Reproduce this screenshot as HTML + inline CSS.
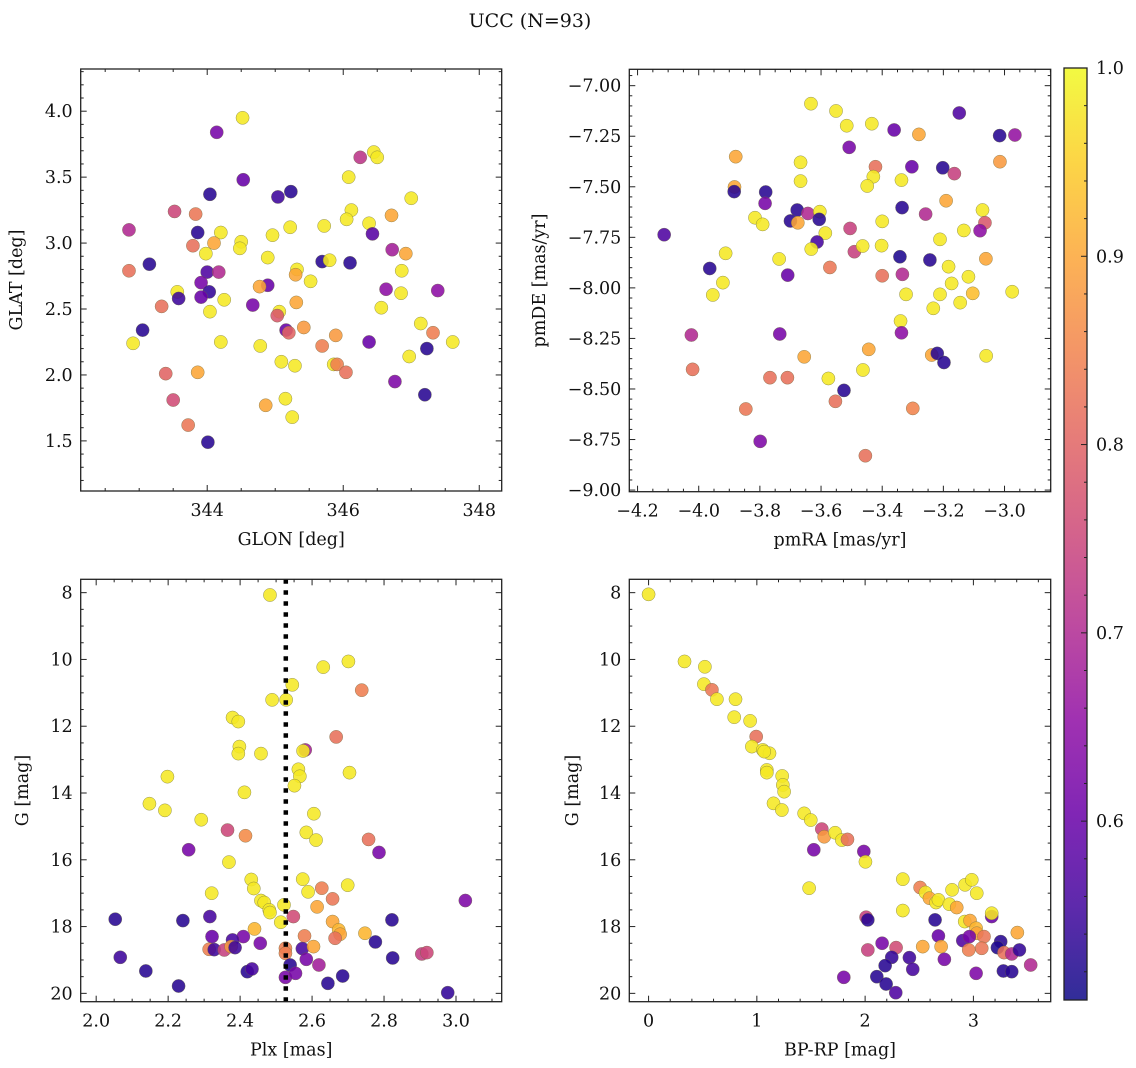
<!DOCTYPE html>
<html><head><meta charset="utf-8"><title>UCC (N=93)</title>
<style>
html,body{margin:0;padding:0;background:#fff;}
svg{display:block;font-family:"DejaVu Serif","Liberation Serif",serif;}
</style></head>
<body>
<svg id="fig" width="1136" height="1068" viewBox="0 0 1136 1068" xmlns="http://www.w3.org/2000/svg">
<text x="530" y="27" font-size="19" text-anchor="middle" fill="#111">UCC (N=93)</text>
</svg>
<script>
// ---- Panel 1: GLON vs GLAT ----
const glon=[344.52,344.14,346.25,346.45,346.5,344.53,346.08,344.04,345.23,345.04,347.0,343.52,343.83,346.12,346.05,346.71,342.85,343.86,344.2,345.22,345.72,346.38,346.43,343.79,344.1,344.5,344.48,344.96,343.98,344.89,346.72,346.92,343.15,342.85,344.0,344.17,345.69,345.8,346.1,345.32,345.3,346.86,343.91,344.03,343.56,343.58,343.91,344.89,344.77,345.52,346.63,346.85,347.39,344.25,343.33,344.04,344.67,345.31,345.06,345.03,346.56,343.05,345.16,345.2,345.42,345.89,347.14,347.32,342.91,344.2,344.78,345.69,346.38,347.61,347.23,345.09,345.29,345.86,345.91,346.04,346.97,343.39,343.86,346.76,343.5,345.15,347.2,344.86,345.25,343.72,344.01];
const glat=[3.95,3.84,3.65,3.69,3.65,3.48,3.5,3.37,3.39,3.35,3.34,3.24,3.22,3.25,3.18,3.21,3.1,3.08,3.08,3.12,3.13,3.15,3.07,2.98,3.0,3.01,2.96,3.06,2.92,2.89,2.95,2.92,2.84,2.79,2.78,2.78,2.86,2.87,2.85,2.8,2.76,2.79,2.7,2.63,2.63,2.58,2.59,2.68,2.67,2.71,2.65,2.62,2.64,2.57,2.52,2.48,2.53,2.55,2.48,2.45,2.51,2.34,2.34,2.32,2.36,2.3,2.39,2.32,2.24,2.25,2.22,2.22,2.25,2.25,2.2,2.1,2.07,2.08,2.08,2.02,2.14,2.01,2.02,1.95,1.81,1.82,1.85,1.77,1.68,1.62,1.49];
const prob1=[0.98,0.62,0.72,0.98,0.98,0.6,0.98,0.53,0.53,0.55,0.98,0.75,0.83,0.98,0.98,0.9,0.7,0.53,0.98,0.98,0.98,0.98,0.58,0.82,0.9,0.98,0.98,0.98,0.98,0.98,0.68,0.9,0.53,0.82,0.57,0.7,0.53,0.98,0.53,0.98,0.9,0.98,0.62,0.54,0.98,0.55,0.6,0.6,0.9,0.98,0.65,0.98,0.65,0.98,0.82,0.98,0.62,0.9,0.98,0.78,0.98,0.53,0.6,0.8,0.88,0.88,0.98,0.84,0.98,0.98,0.98,0.84,0.6,0.98,0.53,0.98,0.98,0.98,0.84,0.82,0.98,0.8,0.9,0.63,0.76,0.98,0.53,0.9,0.98,0.83,0.53];
// ---- Panel 2: pmRA vs pmDE ----
const pmra=[-3.633,-3.551,-3.516,-3.434,-3.508,-3.361,-3.28,-3.148,-3.016,-2.966,-3.879,-3.667,-3.667,-3.422,-3.429,-3.449,-3.337,-3.303,-3.202,-3.164,-3.015,-3.883,-3.884,-3.781,-3.783,-3.816,-3.791,-3.678,-3.7,-3.676,-3.643,-3.604,-3.606,-3.586,-3.613,-3.632,-3.505,-3.491,-3.464,-3.4,-3.402,-3.335,-3.258,-3.191,-3.211,-3.072,-3.064,-3.08,-3.133,-4.113,-3.912,-3.964,-3.921,-3.954,-3.737,-3.709,-3.571,-3.342,-3.334,-3.4,-3.244,-3.183,-3.173,-3.118,-3.061,-3.322,-3.211,-3.104,-3.145,-3.233,-2.975,-3.34,-3.337,-4.024,-3.735,-4.02,-3.655,-3.444,-3.238,-3.22,-3.198,-3.06,-3.767,-3.71,-3.576,-3.463,-3.525,-3.553,-3.846,-3.3,-3.799,-3.455];
const pmde=[-7.089,-7.125,-7.198,-7.188,-7.305,-7.219,-7.241,-7.135,-7.247,-7.244,-7.351,-7.379,-7.472,-7.401,-7.45,-7.496,-7.467,-7.401,-7.406,-7.435,-7.376,-7.501,-7.524,-7.526,-7.582,-7.653,-7.686,-7.615,-7.669,-7.678,-7.632,-7.623,-7.661,-7.729,-7.773,-7.808,-7.706,-7.821,-7.793,-7.671,-7.791,-7.603,-7.635,-7.569,-7.76,-7.615,-7.678,-7.717,-7.716,-7.737,-7.829,-7.904,-7.974,-8.035,-7.857,-7.937,-7.899,-7.846,-7.933,-7.94,-7.862,-7.895,-7.978,-7.945,-7.856,-8.032,-8.032,-8.027,-8.073,-8.101,-8.019,-8.164,-8.222,-8.233,-8.228,-8.403,-8.341,-8.304,-8.332,-8.324,-8.369,-8.336,-8.444,-8.444,-8.448,-8.406,-8.507,-8.561,-8.599,-8.596,-8.759,-8.83];
const prob2=[0.98,0.98,0.98,0.98,0.62,0.6,0.9,0.57,0.53,0.66,0.9,0.98,0.98,0.82,0.98,0.98,0.98,0.6,0.53,0.74,0.88,0.9,0.53,0.53,0.62,0.98,0.98,0.53,0.53,0.9,0.7,0.98,0.53,0.98,0.56,0.98,0.74,0.74,0.98,0.98,0.98,0.53,0.7,0.9,0.98,0.98,0.78,0.65,0.98,0.57,0.98,0.53,0.98,0.98,0.98,0.6,0.83,0.52,0.7,0.82,0.53,0.98,0.98,0.98,0.9,0.98,0.98,0.93,0.98,0.98,0.98,0.98,0.65,0.7,0.62,0.82,0.9,0.9,0.9,0.53,0.53,0.98,0.82,0.82,0.98,0.98,0.53,0.82,0.83,0.85,0.63,0.82];
// ---- Panel 3: Plx vs G ----
const plx=[2.483,2.631,2.701,2.545,2.738,2.489,2.528,2.379,2.395,2.667,2.398,2.395,2.458,2.581,2.575,2.198,2.562,2.566,2.704,2.412,2.551,2.148,2.191,2.605,2.292,2.365,2.415,2.584,2.611,2.757,2.257,2.786,2.369,2.431,2.438,2.574,2.589,2.627,2.699,2.321,2.657,2.458,2.467,2.481,2.483,2.522,2.614,3.026,2.548,2.513,2.657,2.674,2.678,2.44,2.747,2.053,2.241,2.316,2.822,2.322,2.409,2.379,2.456,2.579,2.664,2.776,2.314,2.328,2.356,2.375,2.386,2.526,2.526,2.573,2.604,2.067,2.824,2.905,2.919,2.539,2.584,2.619,2.138,2.42,2.433,2.526,2.554,2.685,2.229,2.644,2.977];
const gmag3=[8.07,10.23,10.06,10.76,10.92,11.21,11.21,11.74,11.86,12.32,12.61,12.82,12.82,12.71,12.74,13.51,13.29,13.5,13.39,13.98,13.78,14.32,14.52,14.62,14.8,15.11,15.28,15.18,15.41,15.39,15.7,15.78,16.07,16.59,16.86,16.58,16.96,16.85,16.76,17.0,17.17,17.22,17.28,17.5,17.58,17.35,17.41,17.22,17.7,17.87,17.85,18.1,18.23,18.07,18.2,17.78,17.82,17.7,17.8,18.3,18.3,18.4,18.5,18.28,18.35,18.46,18.68,18.69,18.7,18.6,18.63,18.65,18.8,18.66,18.6,18.92,18.94,18.82,18.78,19.15,18.98,19.15,19.33,19.35,19.27,19.52,19.4,19.48,19.78,19.7,19.98];
const prob3=[0.98,0.98,0.98,0.98,0.84,0.98,0.98,0.98,0.98,0.82,0.98,0.98,0.98,0.68,0.98,0.98,0.98,0.98,0.98,0.98,0.98,0.98,0.98,0.98,0.98,0.75,0.86,0.98,0.98,0.82,0.62,0.62,0.98,0.98,0.98,0.98,0.98,0.84,0.98,0.98,0.83,0.98,0.98,0.98,0.98,0.98,0.9,0.63,0.76,0.98,0.9,0.92,0.9,0.92,0.92,0.53,0.53,0.56,0.53,0.6,0.62,0.56,0.62,0.84,0.82,0.53,0.84,0.55,0.74,0.88,0.55,0.84,0.84,0.56,0.9,0.55,0.53,0.73,0.75,0.53,0.62,0.68,0.53,0.53,0.56,0.62,0.62,0.53,0.53,0.53,0.54];
const plxMedian=2.527;
// ---- Panel 4: BP-RP vs G ----
const bprp=[0,0.332,0.52,0.511,0.585,0.631,0.803,0.791,0.938,0.994,0.954,1.055,1.117,1.068,1.092,1.092,1.234,1.24,1.252,1.154,1.231,1.437,1.498,1.6,1.622,1.723,1.785,1.837,1.526,1.988,2.003,1.483,2.348,2.508,2.557,2.594,2.655,2.677,2.803,2.778,2.846,2.923,2.985,3.031,2.348,2.009,2.025,2.646,3.169,3.169,2.92,2.969,3.025,3.031,3.098,3.406,2.677,2.902,2.963,3.077,2.957,2.157,2.286,2.025,2.532,2.702,3.252,3.222,3.283,3.354,3.425,3.529,2.246,2.409,2.732,2.185,2.44,3.025,3.277,3.354,1.803,2.108,2.194,2.283];
const gmag4=[8.05,10.06,10.22,10.74,10.91,11.19,11.19,11.73,11.84,12.31,12.61,12.71,12.81,12.76,13.31,13.39,13.49,13.76,13.96,14.31,14.51,14.61,14.81,15.08,15.31,15.19,15.41,15.39,15.7,15.75,16.06,16.85,16.58,16.83,16.98,17.15,17.28,17.2,16.9,17.33,17.43,16.75,16.6,17.0,17.52,17.72,17.8,17.8,17.7,17.6,17.85,17.82,18.05,18.2,18.3,18.18,18.28,18.42,18.3,18.65,18.7,18.5,18.63,18.7,18.6,18.6,18.45,18.63,18.78,18.82,18.7,19.15,18.92,18.93,18.98,19.17,19.28,19.4,19.33,19.35,19.52,19.5,19.72,19.98];
const prob4=[0.98,0.98,0.98,0.98,0.83,0.98,0.98,0.98,0.98,0.82,0.98,0.98,0.98,0.98,0.98,0.98,0.98,0.98,0.98,0.98,0.98,0.98,0.98,0.75,0.88,0.98,0.98,0.82,0.62,0.62,0.98,0.98,0.98,0.84,0.98,0.9,0.98,0.98,0.98,0.98,0.9,0.98,0.98,0.98,0.98,0.74,0.53,0.53,0.6,0.98,0.98,0.9,0.92,0.9,0.83,0.9,0.6,0.57,0.62,0.83,0.84,0.62,0.76,0.74,0.9,0.9,0.53,0.52,0.82,0.7,0.54,0.7,0.54,0.55,0.62,0.53,0.56,0.63,0.53,0.53,0.62,0.53,0.53,0.57];
// ---- Colorbar ----
const cbTicks=[0.6,0.7,0.8,0.9,1.0];
const cMin=0.505, cMax=1.0;

const NS="http://www.w3.org/2000/svg";
const svg=document.getElementById('fig');
const FS=17.5;
function mk(tag,attrs,parent){const e=document.createElementNS(NS,tag);for(const k in attrs)e.setAttribute(k,attrs[k]);(parent||svg).appendChild(e);return e;}
const plasma=[[13,8,135],[65,4,157],[106,0,168],[143,13,164],[177,42,144],[204,71,120],[225,100,98],[242,132,75],[252,166,54],[252,206,37],[240,249,33]];
function cmap(v){let t=(v-cMin)/(cMax-cMin);t=Math.max(0,Math.min(1,t));const f=t*10,i=Math.min(9,Math.floor(f)),r=f-i;const a=plasma[i],b=plasma[i+1];return 'rgb('+[0,1,2].map(k=>Math.round(a[k]+(b[k]-a[k])*r)).join(',')+')';}
function fmt(v,d){const s=Math.abs(v).toFixed(d);return (v<0?'\u2212':'')+s;}

function panel(c){
  const g=mk('g',{});
  
  
  const sx=v=>c.L+(v-c.x0)/(c.x1-c.x0)*(c.R-c.L);
  const sy=v=>c.T+(v-c.y0)/(c.y1-c.y0)*(c.B-c.T);
  const pg=mk('g',{},g);
  
  
  for(let i=0;i<c.xs.length;i++){
    const p=mk('circle',{cx:sx(c.xs[i]),cy:sy(c.ys[i]),r:6.6,fill:cmap(c.cs[i]),'fill-opacity':0.88,stroke:'#6b6b40','stroke-width':0.5,'stroke-opacity':0.7},pg);
    
    
  }
  if(c.vline!==undefined){
    const l=mk('line',{x1:sx(c.vline),x2:sx(c.vline),y1:c.T,y2:c.B,stroke:'#000','stroke-width':4.5,'stroke-dasharray':'4.5 6.5'},g);
    
    
  }
  const fr=mk('rect',{x:c.L,y:c.T,width:c.R-c.L,height:c.B-c.T,fill:'none',stroke:'#222','stroke-width':1.3},g);
  
  
  const eps=1e-6;
  const xa=mk('g',{},g);
  
  
  const xlo=Math.min(c.x0,c.x1),xhi=Math.max(c.x0,c.x1);
  for(let v=Math.ceil(xlo/c.xmin-eps)*c.xmin;v<=xhi+eps;v+=c.xmin){
    const maj=Math.abs(v/c.xmaj-Math.round(v/c.xmaj))<1e-4;const len=maj?6:3;const x=sx(v);
    mk('line',{x1:x,x2:x,y1:c.B,y2:c.B-len,stroke:'#222','stroke-width':1},xa);
    mk('line',{x1:x,x2:x,y1:c.T,y2:c.T+len,stroke:'#222','stroke-width':1},xa);
    if(maj){const t=mk('text',{x:x,y:c.B+25,'font-size':FS,'text-anchor':'middle',fill:'#111'},xa);t.textContent=fmt(v,c.xd);
      
      }
  }
  const ya=mk('g',{},g);
  
  
  const ylo=Math.min(c.y0,c.y1),yhi=Math.max(c.y0,c.y1);
  for(let v=Math.ceil(ylo/c.ymin-eps)*c.ymin;v<=yhi+eps;v+=c.ymin){
    const maj=Math.abs(v/c.ymaj-Math.round(v/c.ymaj))<1e-4;const len=maj?6:3;const y=sy(v);
    mk('line',{x1:c.L,x2:c.L+len,y1:y,y2:y,stroke:'#222','stroke-width':1},ya);
    mk('line',{x1:c.R,x2:c.R-len,y1:y,y2:y,stroke:'#222','stroke-width':1},ya);
    if(maj){const t=mk('text',{x:c.L-8,y:y+6,'font-size':FS,'text-anchor':'end',fill:'#111'},ya);t.textContent=fmt(v,c.yd);
      
      }
  }
  const xl=mk('text',{x:(c.L+c.R)/2,y:c.B+54,'font-size':FS,'text-anchor':'middle',fill:'#111'},g);
  xl.textContent=c.xlabel;
  
  
  const yx=c.ylx, yy=(c.T+c.B)/2;
  const yl=mk('text',{x:yx,y:yy,'font-size':FS,'text-anchor':'middle',fill:'#111',transform:'rotate(-90 '+yx+' '+yy+')'},g);
  yl.textContent=c.ylabel;
  
  
}

panel({name:'glon-glat-panel',L:80.7,R:501.7,T:69,B:491,x0:342.14,x1:348.33,y0:4.32,y1:1.12,xmaj:2,xmin:0.5,ymaj:0.5,ymin:0.1,xd:0,yd:1,xs:glon,ys:glat,cs:prob1,xlabel:'GLON [deg]',ylabel:'GLAT [deg]',ylx:22});
panel({name:'pm-panel',L:629.3,R:1050.7,T:69.3,B:491.7,x0:-4.227,x1:-2.849,y0:-6.919,y1:-9.008,xmaj:0.2,xmin:0.05,ymaj:0.25,ymin:0.05,xd:1,yd:2,xs:pmra,ys:pmde,cs:prob2,xlabel:'pmRA [mas/yr]',ylabel:'pmDE [mas/yr]',ylx:545});
panel({name:'plx-g-panel',L:80.7,R:501.7,T:579.3,B:1001.7,x0:1.957,x1:3.127,y0:7.6,y1:20.25,xmaj:0.2,xmin:0.05,ymaj:2,ymin:0.5,xd:1,yd:0,xs:plx,ys:gmag3,cs:prob3,xlabel:'Plx [mas]',ylabel:'G [mag]',ylx:28,vline:plxMedian});
panel({name:'cmd-panel',L:629.3,R:1050.7,T:579.3,B:1001.7,x0:-0.178,x1:3.714,y0:7.6,y1:20.25,xmaj:1,xmin:0.2,ymaj:2,ymin:0.5,xd:0,yd:0,xs:bprp,ys:gmag4,cs:prob4,xlabel:'BP-RP [mag]',ylabel:'G [mag]',ylx:578});

(function(){
  const L=1064,R=1087,T=68,B=1000;
  const cb=mk('g',{});
  
  
  const defs=mk('defs',{},cb);
  const gr=mk('linearGradient',{id:'cbg',x1:0,y1:1,x2:0,y2:0},defs);
  for(let i=0;i<=20;i++){const v=cMin+(cMax-cMin)*i/20;mk('stop',{offset:(i/20),'stop-color':cmap(v),'stop-opacity':0.85},gr);}
  mk('rect',{x:L,y:T,width:R-L,height:B-T,fill:'url(#cbg)',stroke:'#222','stroke-width':1.3},cb);
  const sy=v=>B-(v-cMin)/(cMax-cMin)*(B-T);
  for(let k=26;k<=50;k++){const v=k/50;const y=sy(v);if(y<T-0.5||y>B)continue;const maj=k%5==0;
    mk('line',{x1:R,x2:R-(maj?6:3),y1:y,y2:y,stroke:'#222','stroke-width':1},cb);}
  cbTicks.forEach(v=>{const t=mk('text',{x:R+9,y:sy(v)+6,'font-size':FS,fill:'#111'},cb);t.textContent=v.toFixed(1);
    
    });
})();
</script>
</body></html>
